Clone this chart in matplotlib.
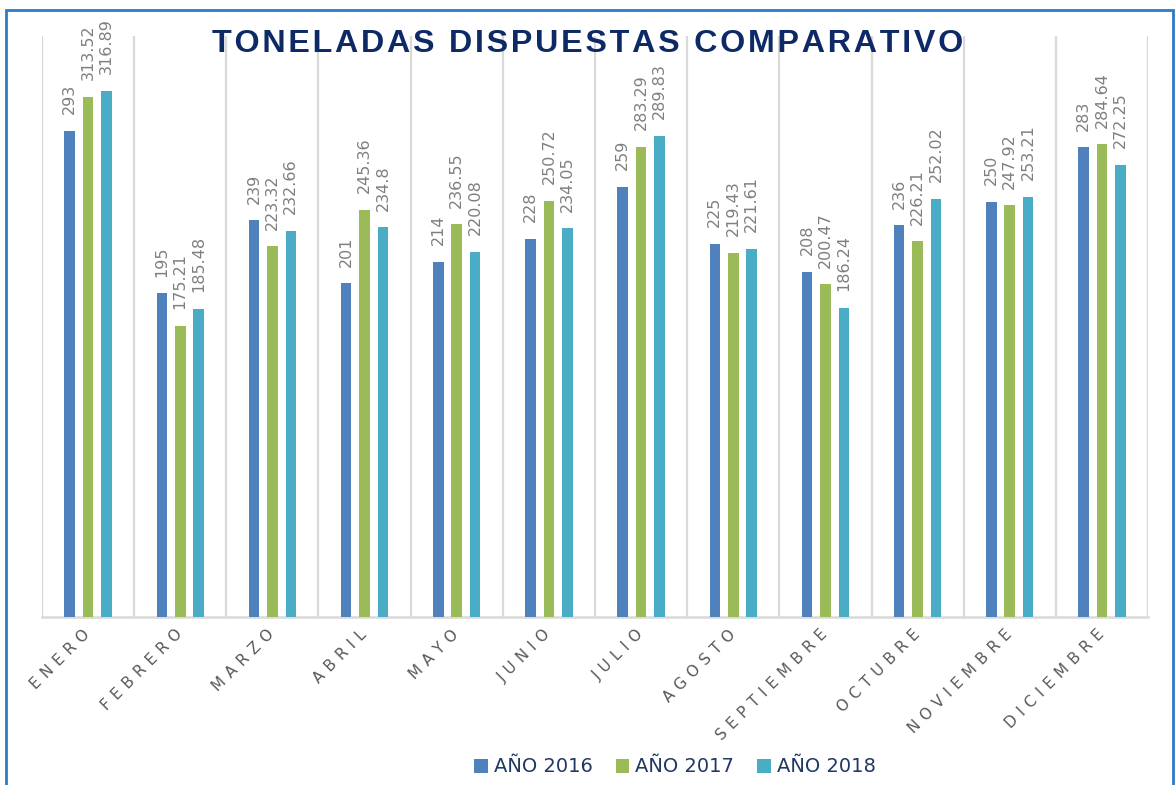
import numpy as np
import matplotlib.pyplot as plt
from matplotlib.patches import Rectangle

meses = ["ENERO", "FEBRERO", "MARZO", "ABRIL", "MAYO", "JUNIO", "JULIO",
         "AGOSTO", "SEPTIEMBRE", "OCTUBRE", "NOVIEMBRE", "DICIEMBRE"]
anio_2016 = [293, 195, 239, 201, 214, 228, 259, 225, 208, 236, 250, 283]
anio_2017 = [313.52, 175.21, 223.32, 245.36, 236.55, 250.72, 283.29, 219.43,
             200.47, 226.21, 247.92, 284.64]
anio_2018 = [316.89, 185.48, 232.66, 234.8, 220.08, 234.05, 289.83, 221.61,
             186.24, 252.02, 253.21, 272.25]
series = ["AÑO 2016", "AÑO 2017", "AÑO 2018"]
colores = ["#4f81bd", "#9bbb59", "#4bacc6"]


def espaciado(txt, sep="\u2009"):
    return sep.join(txt)


def main():
    fig = plt.figure(figsize=(11.75, 7.85), dpi=100)
    ax = fig.add_axes([42 / 1175, 1 - 617 / 785, 1106 / 1175, 581 / 785])

    # marco azul alrededor del grafico
    fig.patches.append(Rectangle((6 / 1175, -0.01), 1167 / 1175, 1 - 10 / 785 + 0.01,
                                 transform=fig.transFigure, fill=False,
                                 edgecolor="#2a7cc7", linewidth=2))

    x = np.arange(len(meses))
    ancho = 0.115
    paso = 0.2
    for i, (datos, nombre, col) in enumerate(zip([anio_2016, anio_2017, anio_2018], series, colores)):
        pos = x + (i - 1) * paso
        ax.bar(pos, datos, width=ancho, color=col, label=nombre, zorder=3)
        for px, v in zip(pos, datos):
            ax.annotate(f"{v:g}", (px, v), xytext=(0, 12), textcoords="offset points",
                        rotation=90, ha="center", va="bottom",
                        fontsize=11.5, color="#7f7f7f", zorder=4)

    ax.set_xlim(-0.5, len(meses) - 0.5)
    ax.set_ylim(0, 350)
    ax.set_yticks([])
    for b in np.arange(-0.5, len(meses), 1.0):
        ax.axvline(b, color="#d9d9d9", linewidth=1.6, zorder=1)
    for s in ["left", "right", "top"]:
        ax.spines[s].set_visible(False)
    ax.spines["bottom"].set_color("#d9d9d9")
    ax.spines["bottom"].set_linewidth(1.8)

    ax.set_xticks(x - 0.06)
    ax.set_xticklabels([espaciado(m, "\u2009\u2009") for m in meses], rotation=45, ha="right",
                       rotation_mode="anchor", fontsize=11, color="#595959")
    ax.tick_params(axis="x", length=0, pad=7)

    fig.text(588 / 1175, 1 - 44 / 785, espaciado("TONELADAS DISPUESTAS COMPARATIVO", "\u200a"),
             ha="center", va="center", fontsize=23.2, fontweight="bold",
             family="Liberation Sans", color="#0e2a66")

    leg = fig.legend(loc="center", bbox_to_anchor=(675 / 1175, 1 - 767 / 785), ncol=3,
                     frameon=False, fontsize=14, handlelength=0.7, handleheight=0.7,
                     handletextpad=0.3, columnspacing=1.2)
    for t in leg.get_texts():
        t.set_color("#1f3864")

    fig.savefig("out.png", dpi=100)


if __name__ == "__main__":
    main()
